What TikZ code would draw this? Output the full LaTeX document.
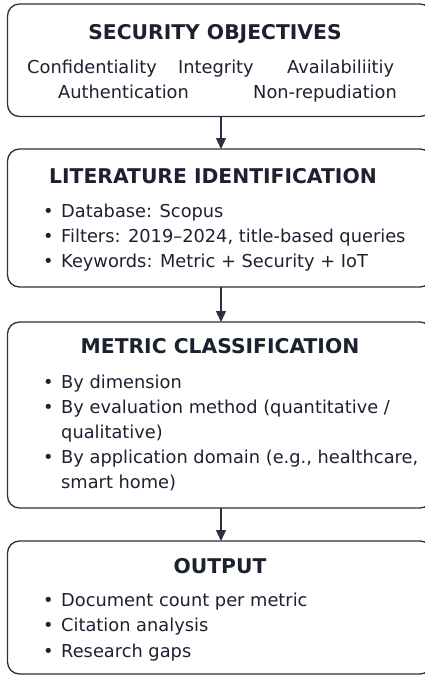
\documentclass[tikz,border=0pt]{standalone}
\usepackage{fontspec}
\setmainfont{DejaVu Sans}
\usetikzlibrary{arrows.meta}
\definecolor{ink}{HTML}{1C2130}
\definecolor{edge}{HTML}{2A3040}
\tikzset{
  panel/.style={draw=edge, line width=1.3pt, rounded corners=12pt},
  ttl/.style={anchor=base, inner sep=0pt, text=ink, font=\fontsize{20.3}{24}\selectfont\bfseries},
  txt/.style={anchor=base west, inner sep=0pt, text=ink, font=\fontsize{17.8}{25}\selectfont},
  flow/.style={draw=edge, line width=1.3pt, -{Triangle[length=11pt,width=10pt]}}
}
\begin{document}
\begin{tikzpicture}[x=1pt,y=-1pt]
\useasboundingbox (0,0) rectangle (425,675);
% panels
\draw[panel] (7.5,4) rectangle (432,116.5);
\draw[panel] (7.5,149) rectangle (432,287);
\draw[panel] (7.5,322) rectangle (432,508);
\draw[panel] (7.5,541) rectangle (432,674);
\coordinate (b1s) at (221,116.5);
\coordinate (b2n) at (221,149);
\coordinate (b2s) at (221,287);
\coordinate (b3n) at (221,322);
\coordinate (b3s) at (221,508);
\coordinate (b4n) at (221,541);
\draw[flow] (b1s) -- (b2n);
\draw[flow] (b2s) -- (b3n);
\draw[flow] (b3s) -- (b4n);
% box 1
\node[ttl] (t1) at (215,39) {SECURITY OBJECTIVES};
\node[txt] (o1) at (27,73) {Confidentiality};
\node[txt] (o2) at (178,73) {Integrity};
\node[txt] (o3) at (287,73) {Availabiliitiy};
\node[txt] (o4) at (58,98) {Authentication};
\node[txt] (o5) at (253,98) {Non-repudiation};
% box 2
\node[ttl] (t2) at (213,183) {LITERATURE IDENTIFICATION};
\node[txt] (d1) at (43,217) {•};
\node[txt] (l1) at (61,217) {Database: Scopus};
\node[txt] (d2) at (43,242) {•};
\node[txt] (l2) at (61,242) {Filters: 2019–2024, title-based queries};
\node[txt] (d3) at (43,267) {•};
\node[txt] (l3) at (61,267) {Keywords: Metric + Security + IoT};
% box 3
\node[ttl] (t3) at (220,353) {METRIC CLASSIFICATION};
\node[txt] (e1) at (43,388) {•};
\node[txt] (m1) at (61,388) {By dimension};
\node[txt] (e2) at (43,413) {•};
\node[txt] (m2) at (61,413) {By evaluation method (quantitative /};
\node[txt] (m2b) at (61,438) {qualitative)};
\node[txt] (e3) at (43,463) {•};
\node[txt] (m3) at (61,463) {By application domain (e.g., healthcare,};
\node[txt] (m3b) at (61,488) {smart home)};
% box 4
\node[ttl] (t4) at (220,573) {OUTPUT};
\node[txt] (f1) at (43,606) {•};
\node[txt] (p1) at (61,606) {Document count per metric};
\node[txt] (f2) at (43,631.5) {•};
\node[txt] (p2) at (61,631.5) {Citation analysis};
\node[txt] (f3) at (43,657) {•};
\node[txt] (p3) at (61,657) {Research gaps};
\end{tikzpicture}
\end{document}
